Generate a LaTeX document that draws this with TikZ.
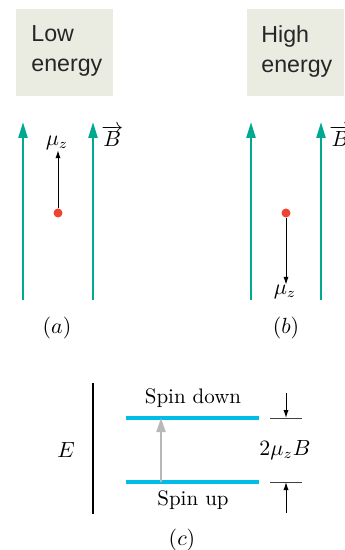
\documentclass[tikz,border=0pt]{standalone}
\usepackage{fontspec}
\newfontfamily\boxfont{Liberation Sans}
\usetikzlibrary{arrows.meta,positioning}
\definecolor{cField}{HTML}{00A98F}
\definecolor{cLevel}{HTML}{00BDE8}
\definecolor{cDot}{HTML}{EE4431}
\definecolor{cBox}{HTML}{EAEBE1}
\tikzset{
  ebox/.style={rectangle,fill=cBox,inner sep=0pt,minimum width=48.5pt,minimum height=43.5pt,anchor=north west},
  etext/.style={font=\boxfont\fontsize{11.6}{15}\selectfont,align=left,inner sep=0pt,anchor=north west,text=black!85},
  field/.style={-{Triangle[length=8pt,width=4.5pt]},line width=1.2pt,cField},
  dipole/.style={circle,fill=cDot,inner sep=0pt,minimum size=4.5pt},
  mom/.style={-{Latex[length=4pt,width=2.6pt]},line width=.5pt,black},
  lvl/.style={line width=2pt,cLevel},
  tick/.style={line width=.5pt,black!75},
  lbl/.style={font=\fontsize{10.5}{12}\selectfont,inner sep=0pt},
}
\begin{document}
\begin{tikzpicture}[x=0.5pt,y=-0.5pt]
  \clip (0,0) rectangle (344,550);
  \useasboundingbox (0,0) rectangle (344,550);
  % energy boxes
  \node[ebox] (lowbox) at (16,9) {};
  \node[etext] (lowtxt) at ([xshift=7.5pt,yshift=-8pt]lowbox.north west) {Low\\energy};
  \node[ebox] (highbox) at (247,9) {};
  \node[etext] (hightxt) at ([xshift=7pt,yshift=-8pt]highbox.north west) {High\\energy};
  % panel (a)
  \coordinate (fa1b) at (23,300); \coordinate (fa1t) at (23,122);
  \coordinate (fa2b) at (93,300); \coordinate (fa2t) at (93,122);
  \draw[field] (fa1b) -- (fa1t);
  \draw[field] (fa2b) -- (fa2t);
  \node[lbl,anchor=west] (Ba) at (101,136) {$\overrightarrow{B}$};
  \node[dipole] (dota) at (58,213) {};
  \node[lbl] (mua) at (57,143) {$\mu_z$};
  \draw[mom] (dota) -- (dota |- mua.south);
  \node[lbl] (capa) at (57,328) {$(a)$};
  % panel (b)
  \coordinate (fb1b) at (251,300); \coordinate (fb1t) at (251,122);
  \coordinate (fb2b) at (321,300); \coordinate (fb2t) at (321,122);
  \draw[field] (fb1b) -- (fb1t);
  \draw[field] (fb2b) -- (fb2t);
  \node[lbl,anchor=west] (Bb) at (329,136) {$\overrightarrow{B}$};
  \node[dipole] (dotb) at (286,213) {};
  \node[lbl] (mub) at (285,292) {$\mu_z$};
  \draw[mom] (dotb) -- (dotb |- mub.north);
  \node[lbl] (capb) at (286,328) {$(b)$};
  % panel (c)
  \coordinate (axt) at (93,383); \coordinate (axb) at (93,514);
  \draw[line width=.7pt] (axt) -- (axb);
  \node[lbl] (E) at (66,450) {$E$};
  \coordinate (dnl) at (126,418); \coordinate (dnr) at (259,418);
  \coordinate (upl) at (126,482); \coordinate (upr) at (259,482);
  \draw[lvl] (dnl) -- (dnr);
  \draw[lvl] (upl) -- (upr);
  \node[lbl] (spindown) at (193,398) {Spin down};
  \node[lbl] (spinup) at (193,500) {Spin up};
  \coordinate (exb) at (161,482); \coordinate (ext) at (161,418);
  \draw[-{Triangle[length=7pt,width=4.5pt]},line width=1pt,black!28] (exb) -- (ext);
  \coordinate (tdl) at (270,418); \coordinate (tdr) at (302,418);
  \coordinate (tul) at (270,482); \coordinate (tur) at (302,482);
  \draw[tick] (tdl) -- (tdr);
  \draw[tick] (tul) -- (tur);
  \coordinate (gdt) at (286,393); \coordinate (gub) at (286,513);
  \draw[mom] (gdt) -- (286,418);
  \draw[mom] (gub) -- (286,482);
  \node[lbl] (gap) at (285,450) {$2\mu_z B$};
  \node[lbl] (capc) at (182,540) {$(c)$};
\end{tikzpicture}
\end{document}
